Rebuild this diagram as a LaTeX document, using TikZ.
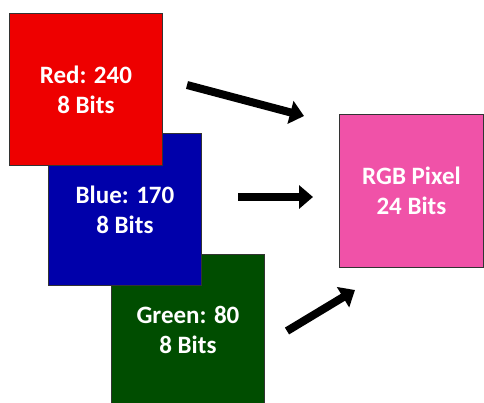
\documentclass[tikz,border=0pt]{standalone}
\usepackage{fontspec}
\setmainfont{Carlito}
\usetikzlibrary{arrows.meta}
\definecolor{redch}{RGB}{238,0,0}
\definecolor{bluech}{RGB}{0,0,170}
\definecolor{greench}{RGB}{0,77,0}
\definecolor{pinkpx}{RGB}{240,82,168}
\begin{document}
\begin{tikzpicture}[x=1pt, y=-1pt,
        chan/.style={rectangle, draw=black!80, line width=0.9pt, minimum width=153pt, minimum height=152pt, inner sep=0pt, anchor=north west, text=white, font=\bfseries\fontsize{25}{30}\selectfont, align=center},
        bigarrow/.style={line width=8pt, -{Triangle[length=14pt, width=23pt]}}
    ]
    \clip (0,0) rectangle (484,402);
    \fill[white] (0,0) rectangle (484,402);
    % channels, back to front
    \node[chan, fill=greench] (green) at (111,254) {Green: 80\\8 Bits};
    \node[chan, fill=bluech] (blue) at (48,133) {Blue: 170\\8 Bits};
    \node[chan, fill=redch] (red) at (9,13) {Red: 240\\8 Bits};
    \node[chan, fill=pinkpx, minimum width=144pt, minimum height=153pt] (pixel) at (339,114) {RGB Pixel\\24 Bits};
    % arrow ends
    \coordinate (r1) at (187,85);
    \coordinate (r2) at (304,116);
    \coordinate (b1) at (238,197);
    \coordinate (b2) at (313,197);
    \coordinate (g1) at (287,331);
    \coordinate (g2) at (355,290);
    \draw[bigarrow] (r1) -- (r2);
    \draw[bigarrow] (b1) -- (b2);
    \draw[bigarrow] (g1) -- (g2);
\end{tikzpicture}
\end{document}
